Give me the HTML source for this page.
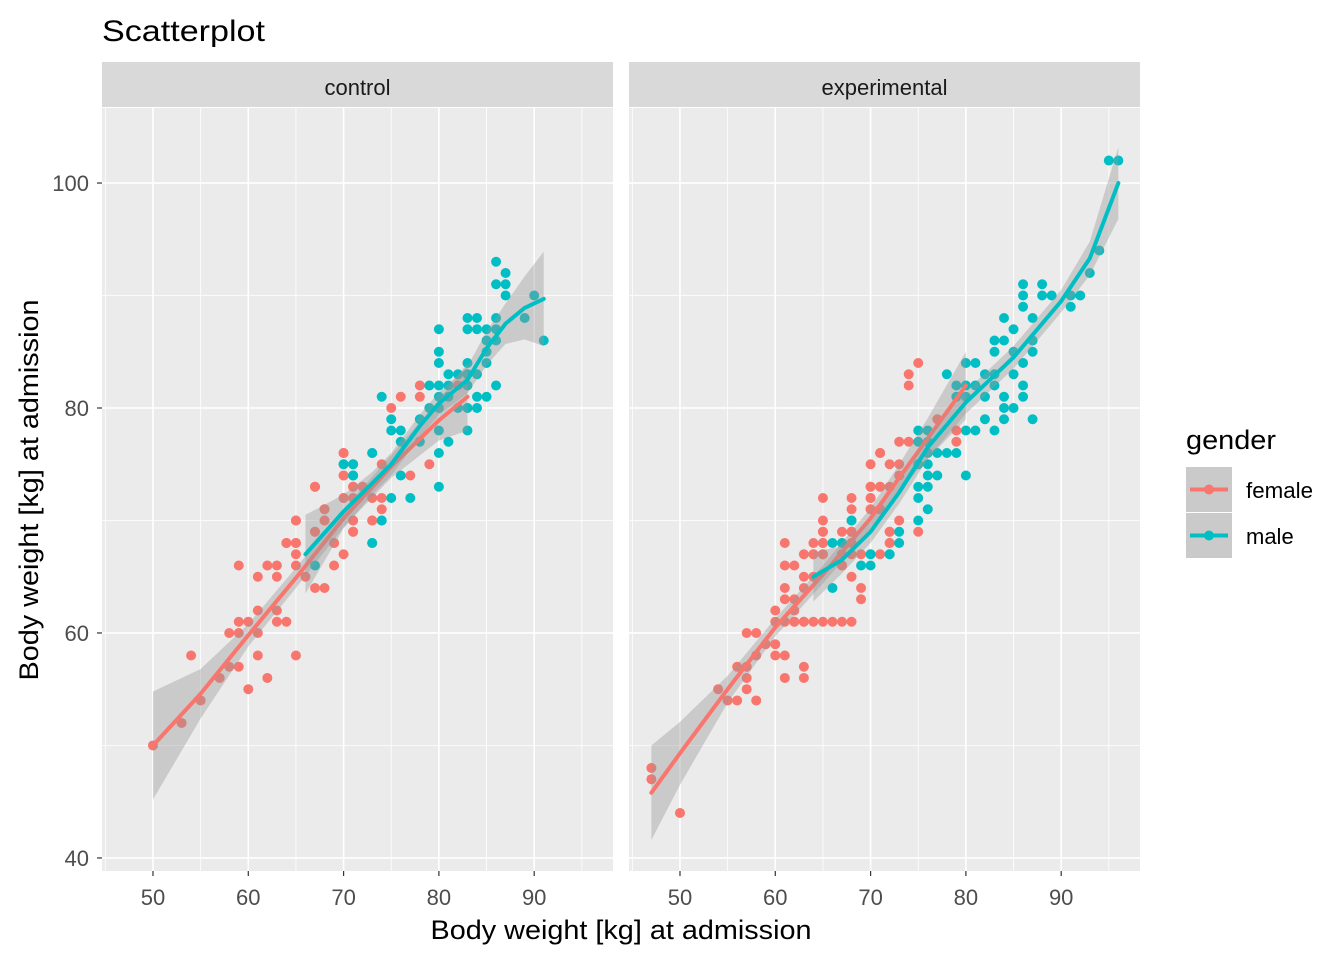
<!DOCTYPE html>
<html><head><meta charset="utf-8">
<style>
body{margin:0;background:#fff;}
svg{display:block;font-family:"Liberation Sans",Arial,sans-serif;}
</style></head>
<body>
<svg id="chart" width="1344" height="960">
<text x="102" y="41" font-size="30" textLength="163" lengthAdjust="spacingAndGlyphs" fill="#000">Scatterplot</text>
<g id="panels"></g>
<text x="621" y="939" font-size="27" text-anchor="middle" textLength="381" lengthAdjust="spacingAndGlyphs" fill="#000">Body weight [kg] at admission</text>
<text transform="translate(38,490) rotate(-90)" font-size="27" text-anchor="middle" textLength="381" lengthAdjust="spacingAndGlyphs" fill="#000">Body weight [kg] at admission</text>
<g>
<text x="1186" y="449" font-size="27" textLength="90" lengthAdjust="spacingAndGlyphs" fill="#000">gender</text>
<g>
<rect x="1186" y="467" width="46" height="45" fill="#cacaca"/>
<line x1="1190" y1="489.5" x2="1228" y2="489.5" stroke="#F8766D" stroke-width="4"/>
<circle cx="1209" cy="489.5" r="5" fill="#F8766D"/>
<text x="1246" y="498" font-size="22" textLength="67" lengthAdjust="spacingAndGlyphs" fill="#000">female</text>
</g>
<g>
<rect x="1186" y="513" width="46" height="45" fill="#cacaca"/>
<line x1="1190" y1="535.5" x2="1228" y2="535.5" stroke="#00BFC4" stroke-width="4"/>
<circle cx="1209" cy="535.5" r="5" fill="#00BFC4"/>
<text x="1246" y="544" font-size="22" fill="#000">male</text>
</g>
</g>
</svg>
<script>
// ---- data ----
const panelNames = ["control","experimental"];
const xTicks = [50,60,70,80,90];
const yTicks = [40,60,80,100];
const ctrlFemaleX = [50,53,55,54,57,58,59,60,62,61,61,65,58,59,59,60,61,63,63,64,59,61,62,63,65,63,65,64,65,64,65,66,67,68,67,67,68,68,69,69,70,70,70,70,71,71,73,71,73,78,78,76,75,70,70,67,71,72,74,77,79,70,71,73,74,74,68,68,71,73,65,67,71,69,64,65,82,83,83];
const ctrlFemaleY = [50,52,54,58,56,57,57,55,56,60,58,58,60,60,61,61,62,62,61,61,66,65,66,66,66,65,67,68,68,68,70,65,64,64,69,73,71,70,68,66,67,76,74,72,70,69,70,73,72,82,81,81,80,76,74,73,73,73,75,74,75,72,72,72,72,71,71,70,70,70,70,69,69,68,68,68,82,83,80];
const ctrlMaleX = [73,70,71,71,67,73,74,86,87,86,87,87,90,89,91,83,84,86,83,84,85,86,80,85,86,85,80,80,83,85,81,82,83,84,79,80,81,83,86,74,80,81,84,85,79,80,82,83,84,75,78,75,76,80,83,76,78,81,80,73,70,71,71,76,75,80,77,74,73];
const ctrlMaleY = [76,75,75,74,66,68,70,93,92,91,91,90,90,88,86,88,88,88,87,87,87,87,87,86,86,85,85,84,84,84,83,83,83,83,82,82,82,82,82,81,81,81,81,81,80,80,80,80,80,79,79,78,78,78,78,77,77,77,76,76,75,75,74,74,72,73,72,70,68];
const expFemaleX = [47,47,50,54,55,56,58,57,57,56,57,57,58,59,57,58,60,60,60,61,60,61,63,63,61,62,62,63,64,65,66,67,68,61,62,63,63,61,62,61,62,63,64,64,65,65,61,65,65,68,69,69,68,67,67,68,67,68,68,68,70,71,70,71,70,70,71,72,72,75,74,74,77,79,79,73,74,71,72,73,73,70,71,72,70,70,71,68,65,65,67,68,64,65,67,68,73,75,72,72,71,69,63,64,65];
const expFemaleY = [48,47,44,55,54,54,54,55,57,57,57,56,58,59,60,60,62,61,59,58,58,56,56,57,63,62,61,61,61,61,61,61,61,61,61,61,64,64,63,66,66,65,65,67,67,68,68,69,70,72,63,64,65,66,66,67,67,69,69,68,71,76,75,73,73,72,71,69,68,84,83,82,79,78,77,77,77,76,75,75,74,73,73,73,72,71,71,71,72,69,69,69,68,68,68,68,70,69,69,68,67,67,67,67,67];
const expMaleX = [66,68,66,69,70,70,72,93,86,88,86,88,89,91,92,91,86,84,87,85,83,84,83,85,87,87,86,80,81,78,82,83,85,79,80,81,83,86,79,80,82,84,86,84,85,82,84,87,75,76,80,81,83,75,76,76,77,78,79,75,76,76,77,80,75,76,75,76,68,75,73,73,72,70,67,95,96,94];
const expMaleY = [68,70,64,66,66,67,67,92,91,91,90,90,90,90,90,89,89,88,88,87,86,86,85,85,85,86,84,84,84,83,83,83,83,82,82,82,82,82,81,81,81,81,81,80,80,79,79,79,78,78,78,78,78,77,77,76,76,76,76,75,75,74,74,74,73,73,72,71,70,70,69,68,67,67,68,102,102,94];
// smooth fits (loess lines with standard error band)
const ctrlFemaleFitX = [50,55,60,65,70,75,80,83];
const ctrlFemaleFitY = [50,54.6,59.8,64.9,70.2,74.8,78.9,81];
const ctrlFemaleFitSE = [4.8,2.2,1.0,0.9,0.8,1.0,1.8,3];
const ctrlMaleFitX = [66,70,73,75,78,80,83,85,87,89,91];
const ctrlMaleFitY = [67,70.8,73.3,75,78.4,80.4,82.5,85.3,87.5,88.9,89.7];
const ctrlMaleFitSE = [3.5,1.5,1.0,1.0,1.0,1.0,1.2,1.5,1.8,2.8,4.2];
const expFemaleFitX = [47,50,55,60,65,70,73,76,80];
const expFemaleFitY = [45.8,49.3,55,60.5,65.2,70.2,73.8,77.3,82];
const expFemaleFitSE = [4.2,2.8,1.2,0.8,0.8,0.9,1.2,1.8,3];
const expMaleFitX = [64,67,70,73,76,80,85,90,93,96];
const expMaleFitY = [65,66.5,69,72.5,76.5,80.5,84.5,89.5,93.3,100];
const expMaleFitSE = [2.2,1.2,1.0,1.0,1.0,1.0,1.0,1.0,1.5,3.2];

const NS="http://www.w3.org/2000/svg";
const FEM="#F8766D", MAL="#00BFC4";
const panelLeft=[102,629], PW=511, PT=108, PB=871;
const xDom=[44.65,98.27], yDom=[38.84,106.67];
function xs(p,v){return panelLeft[p]+(v-xDom[0])/(xDom[1]-xDom[0])*PW;}
function ys(v){return PB-(v-yDom[0])/(yDom[1]-yDom[0])*(PB-PT);}
function mk(tag,attrs,parent){const e=document.createElementNS(NS,tag);for(const k in attrs)e.setAttribute(k,attrs[k]);parent.appendChild(e);return e;}
const root=document.getElementById('panels');

const panelData=[
 {f:[ctrlFemaleX,ctrlFemaleY],m:[ctrlMaleX,ctrlMaleY],ff:[ctrlFemaleFitX,ctrlFemaleFitY,ctrlFemaleFitSE],mf:[ctrlMaleFitX,ctrlMaleFitY,ctrlMaleFitSE]},
 {f:[expFemaleX,expFemaleY],m:[expMaleX,expMaleY],ff:[expFemaleFitX,expFemaleFitY,expFemaleFitSE],mf:[expMaleFitX,expMaleFitY,expMaleFitSE]}
];

for(let p=0;p<2;p++){
  const g=mk('g',{},root);
  
  
  const bg=mk('rect',{x:panelLeft[p],y:PT,width:PW,height:PB-PT,fill:'#EBEBEB'},g);
  
  
  const st=mk('rect',{x:panelLeft[p],y:62,width:PW,height:45,fill:'#D9D9D9'},g);
  
  
  const stt=mk('text',{x:panelLeft[p]+PW/2,y:95,'font-size':22,'text-anchor':'middle',fill:'#1A1A1A'},g);
  stt.textContent=panelNames[p];
  
  
  for(let i=0;i<xTicks.length;i++){
    const xv=xTicks[i]-5;
    const l=mk('line',{x1:xs(p,xv),x2:xs(p,xv),y1:PT,y2:PB,stroke:'#fff','stroke-width':0.8},g);
    
    
  }
  { const xv=xTicks[xTicks.length-1]+5;
    const l=mk('line',{x1:xs(p,xv),x2:xs(p,xv),y1:PT,y2:PB,stroke:'#fff','stroke-width':0.8},g);
    
     }
  for(let i=0;i<yTicks.length-1;i++){
    const yv=yTicks[i]+10;
    const l=mk('line',{x1:panelLeft[p],x2:panelLeft[p]+PW,y1:ys(yv),y2:ys(yv),stroke:'#fff','stroke-width':0.8},g);
    
    
  }
  for(const t of xTicks){
    const l=mk('line',{x1:xs(p,t),x2:xs(p,t),y1:PT,y2:PB,stroke:'#fff','stroke-width':1.6},g);
    
    
    const tk=mk('line',{x1:xs(p,t),x2:xs(p,t),y1:PB,y2:PB+5,stroke:'#333','stroke-width':1.2},g);
    
    
    const tl=mk('text',{x:xs(p,t),y:905,'font-size':22,'text-anchor':'middle',fill:'#4D4D4D'},g);
    tl.textContent=t;
    
    
  }
  for(const t of yTicks){
    const l=mk('line',{x1:panelLeft[p],x2:panelLeft[p]+PW,y1:ys(t),y2:ys(t),stroke:'#fff','stroke-width':1.6},g);
    
    
    if(p===0){
      const tk=mk('line',{x1:97,x2:102,y1:ys(t),y2:ys(t),stroke:'#333','stroke-width':1.2},g);
      
      
      const tl=mk('text',{x:89,y:ys(t)+8,'font-size':22,'text-anchor':'end',fill:'#4D4D4D'},g);
      tl.textContent=t;
      
      
    }
  }
  const d=panelData[p];
  const groups=[[d.f,FEM,'female'],[d.m,MAL,'male']];
  for(const [arr,col,nm] of groups){
    for(let i=0;i<arr[0].length;i++){
      const c=mk('circle',{cx:xs(p,arr[0][i]),cy:ys(arr[1][i]),r:5,fill:col},g);
      
      
    }
  }
  const fits=[[d.ff,FEM,'female'],[d.mf,MAL,'male']];
  for(const [fit,col,nm] of fits){
    const [fx,fy,se]=fit;
    let up=[],lo=[];
    for(let i=0;i<fx.length;i++){up.push(xs(p,fx[i])+','+ys(fy[i]+se[i]));lo.unshift(xs(p,fx[i])+','+ys(fy[i]-se[i]));}
    const rb=mk('polygon',{points:up.concat(lo).join(' '),fill:'#999999','fill-opacity':0.4},g);
    
    
    const pts=fx.map((v,i)=>xs(p,v)+','+ys(fy[i])).join(' ');
    const ln=mk('polyline',{points:pts,fill:'none',stroke:col,'stroke-width':4,'stroke-linejoin':'round','stroke-linecap':'round'},g);
    
    
  }
}
</script>
</body></html>
